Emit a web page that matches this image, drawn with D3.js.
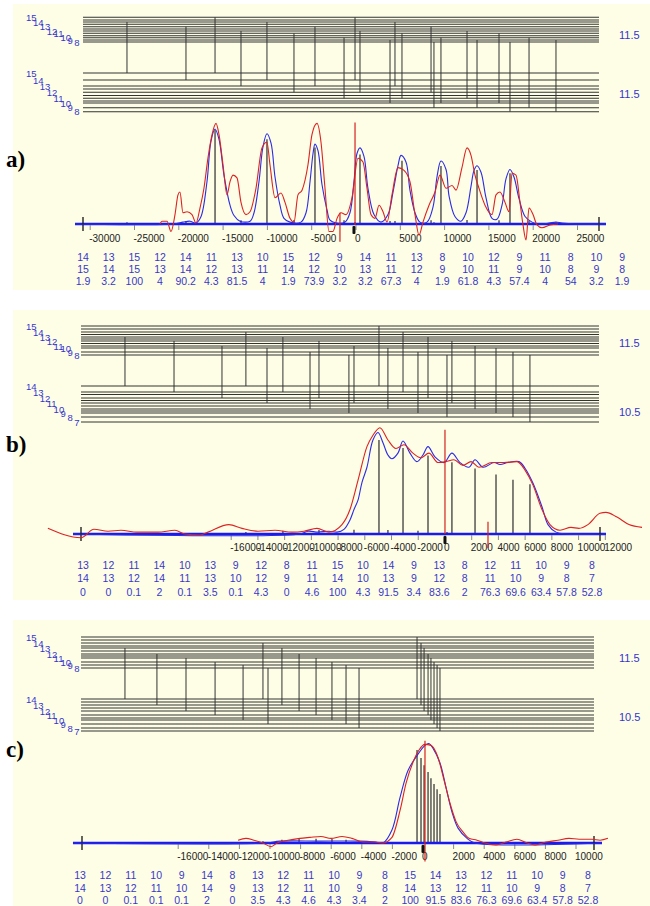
<!DOCTYPE html>
<html>
<head>
<meta charset="utf-8">
<script src="https://cdn.jsdelivr.net/npm/d3@7/dist/d3.min.js"></script>
<style>
  body { margin: 0; background: #fff; }
  svg { display: block; font-family: "Liberation Sans", Arial, sans-serif; }
</style>
</head>
<body>
<div id="chart"></div>
<script>
// ---------- panel a ----------
const aUpN = [15, 14, 13, 12, 11, 10, 9, 8];
const aUpE = [24.7, 20, 15.3, 11, 8.7, 4.3, 2, 0];
const aUpExtra = [22, 17.7, 13, 6.3];
const aLoN = [15, 14, 13, 12, 11, 10, 9, 8];
const aLoE = [38.7, 31.7, 25.7, 19.4, 13.4, 8.7, 4, 0];
const aLoExtra = [22.7, 16.2, 10.7];
const aRight = ["11.5", "11.5"];

const aTUp = [14, 13, 15, 12, 14, 11, 13, 10, 15, 12, 9, 14, 11, 13, 8, 10, 12, 9, 11, 8, 10, 9];
const aTLo = [15, 14, 15, 13, 14, 12, 13, 11, 14, 12, 10, 13, 11, 12, 9, 10, 11, 9, 10, 8, 9, 8];
const aTInt = [1.9, 3.2, 100, 4, 90.2, 4.3, 81.5, 4, 1.9, 73.9, 3.2, 3.2, 67.3, 4, 1.9, 61.8, 4.3, 57.4, 4, 54, 3.2, 1.9];
const aTFreq = [-25850, -19190, -15910, -12980, -10050, -7000, -4630, -1350, -110, 450, 3840, 4400, 5190, 8470, 8800, 9590, 12530, 13660, 16140, 17380, 19530, 22570];
const aTicks = [-30000, -25000, -20000, -15000, -10000, -5000, 0, 5000, 10000, 15000, 20000, 25000];

const aCalc = [[-31720,0],[-20660,0],[-19530,2],[-18740,3],[-18060,1],[-17490,8],[-16820,45],[-16370,88],[-15910,101],[-15460,90],[-14900,52],[-14220,20],[-13770,9],[-13090,3],[-11960,3],[-11510,12],[-10950,45],[-10500,82],[-10050,96],[-9590,86],[-9140,50],[-8580,20],[-8130,6],[-7450,2],[-6210,2],[-5640,12],[-5190,45],[-4850,75],[-4630,85],[-4290,78],[-3840,42],[-3270,15],[-2930,4],[-2140,1],[-1240,2],[-680,12],[-230,45],[110,75],[450,81],[900,72],[1350,38],[2030,10],[2820,2],[3610,10],[4180,34],[4740,62],[5080,73],[5640,66],[6090,36],[6660,12],[7220,2],[8010,2],[8690,18],[9140,50],[9590,67],[10160,58],[10500,30],[11170,8],[11850,3],[12420,12],[12980,40],[13320,57],[13660,62],[14110,55],[14670,28],[15350,6],[15910,5],[16480,20],[16930,48],[17380,58],[17830,50],[18400,27],[19080,8],[19870,2],[20660,0],[21790,1],[22570,2],[23250,1],[24720,0],[28220,0]];
const aObs = [[-22120,0],[-21900,3],[-21330,3],[-20880,-8],[-20430,10],[-20090,31],[-19870,34],[-19530,12],[-19070,13],[-18510,10],[-18060,1],[-17610,17],[-17160,38],[-16710,70],[-16250,95],[-15800,107],[-15460,95],[-15010,63],[-14560,31],[-14220,45],[-13880,52],[-13430,49],[-12980,23],[-12420,10],[-11960,13],[-11290,38],[-10610,81],[-10050,87],[-9710,63],[-9140,28],[-8470,33],[-8010,23],[-7450,6],[-7000,2],[-6550,31],[-6090,36],[-5420,63],[-4970,95],[-4400,107],[-3950,87],[-3500,38],[-3050,-8],[-2600,-8],[-2140,6],[-1690,12],[-1130,10],[-450,28],[230,70],[790,66],[1240,38],[1690,10],[2140,6],[2600,20],[3050,13],[3500,2],[4060,31],[4740,60],[5420,57],[6090,45],[6660,10],[7110,-12],[7560,2],[8240,20],[8920,34],[9480,52],[10160,38],[10840,41],[11290,36],[11960,60],[12530,81],[12980,73],[13430,52],[13880,38],[14560,20],[15350,10],[15800,31],[16250,34],[16820,23],[17270,13],[17610,54],[18060,52],[18510,23],[18850,-1],[19190,-17],[19530,17],[19980,10],[20430,-1],[20990,-4],[21900,-1],[22800,0]];
const aRedF = [-110, -1810];
const aRedTop = [108, 12];
const aRedBot = [-1, -19];

// ---------- panel b ----------
const bUpN = [15, 14, 13, 12, 11, 10, 9, 8];
const bUpE = [29, 23, 18, 14, 9, 7, 3, 0];
const bUpExtra = [26, 20.5, 16, 11.5];
const bLoN = [14, 13, 12, 11, 10, 9, 8, 7];
const bLoE = [36, 30, 24, 19, 13, 9, 5, 0];
const bLoExtra = [27.5, 21.5, 16, 11];
const bRight = ["11.5", "10.5"];

const bTUp = [13, 12, 11, 14, 10, 13, 9, 12, 8, 11, 15, 10, 14, 9, 13, 8, 12, 11, 10, 9, 8];
const bTLo = [14, 13, 12, 14, 11, 13, 10, 12, 9, 11, 14, 10, 13, 9, 12, 8, 11, 10, 9, 8, 7];
const bTInt = [0, 0, 0.1, 2, 0.1, 3.5, 0.1, 4.3, 0, 4.6, 100, 4.3, 91.5, 3.4, 83.6, 2, 76.3, 69.6, 63.4, 57.8, 52.8];
const bTFreq = [-23950, -20280, -16690, -14900, -13320, -12130, -10100, -9430, -7190, -6810, -4940, -4270, -3140, -2020, -1270, 150, 520, 2250, 3820, 5090, 6360];
const bTicks = [-16000, -14000, -12000, -10000, -8000, -6000, -4000, -2000, 0, 2000, 4000, 6000, 8000, 10000, 12000];

const bCalc = [[-27840,0],[-10850,0],[-10250,3],[-9510,2],[-8680,3],[-8080,2],[-7560,5],[-7110,15],[-6810,26],[-6510,36],[-6210,55],[-5840,71],[-5390,100],[-5010,108],[-4640,97],[-4270,84],[-3970,80],[-3520,86],[-3140,99],[-2620,86],[-2100,77],[-1650,84],[-1270,93],[-750,82],[-75,76],[520,86],[1120,76],[1800,71],[2250,79],[2840,71],[3670,76],[4120,74],[4720,76],[5540,77],[5990,70],[6590,54],[7260,29],[7710,10],[8310,2],[9130,0],[12050,0]];
const bObs = [[-29720,6],[-27250,-4],[-26270,5],[-25220,3],[-24250,4],[-23050,2],[-21480,2],[-20210,4],[-19460,0],[-18340,-1],[-17740,2],[-16170,10],[-15190,6],[-14000,3],[-12720,4],[-11450,2],[-10550,3],[-9580,6],[-8680,2],[-7710,10],[-7110,26],[-6510,57],[-5840,93],[-5390,105],[-4870,113],[-4270,100],[-3670,91],[-3070,95],[-2400,86],[-1800,81],[-1200,86],[-520,76],[75,77],[670,79],[1350,73],[1950,77],[2540,71],[3520,76],[4420,76],[5390,77],[5990,68],[6590,52],[7260,26],[7860,10],[8610,4],[9430,7],[10030,6],[10700,10],[11600,22],[12050,23],[12870,18],[13770,10],[14750,7]];
const bRedF = [0, 3220];
const bRedTop = [111, 13];
const bRedBot = [0, -15];

// ---------- panel c ----------
const cUpN = [15, 14, 13, 12, 11, 10, 9, 8];
const cUpE = [31, 25, 20, 14, 10, 6, 3, 0];
const cUpExtra = [28, 22, 17, 12];
const cLoN = [14, 13, 12, 11, 10, 9, 8, 7];
const cLoE = [32, 26, 20, 16, 11, 7, 3, 0];
const cLoExtra = [29, 23, 13];
const cRight = ["11.5", "10.5"];

const cTUp = [13, 12, 11, 10, 9, 14, 8, 13, 12, 11, 10, 9, 8, 15, 14, 13, 12, 11, 10, 9, 8];
const cTLo = [14, 13, 12, 11, 10, 14, 9, 13, 12, 11, 10, 9, 8, 14, 13, 12, 11, 10, 9, 8, 7];
const cTInt = [0, 0, 0.1, 0.1, 0.1, 2, 0, 3.5, 4.3, 4.6, 4.3, 3.4, 2, 100, 91.5, 83.6, 76.3, 69.6, 63.4, 57.8, 52.8];
const cTFreq = [-19480, -17390, -15490, -13590, -11760, -10460, -10130, -9220, -8100, -6990, -5950, -5030, -4180, -390, -130, 70, 330, 520, 720, 920, 1110];
const cTicks = [-16000, -14000, -12000, -10000, -8000, -6000, -4000, -2000, 0, 2000, 4000, 6000, 8000, 10000];

const cCalc = [[-22880,0],[-10330,0],[-9350,2],[-6730,2],[-4120,2],[-3140,1],[-2610,0],[-2030,14],[-1500,49],[-980,78],[-390,94],[130,105],[390,107],[650,102],[1110,86],[1500,60],[1900,33],[2290,16],[2880,5],[3400,0],[11700,0]];
const cObs = [[-12090,3],[-11570,5],[-11050,3],[-10460,0],[-9930,-4],[-9540,0],[-8820,3],[-8040,5],[-7390,6],[-6670,7],[-6010,5],[-5290,7],[-4640,5],[-3920,1],[-3140,1],[-2610,0],[-2030,6],[-1500,35],[-1110,64],[-650,87],[-260,100],[130,106],[520,105],[980,92],[1370,68],[1760,43],[2160,23],[2610,12],[3010,5],[3530,3],[4050,0],[4770,-2],[5420,1],[6140,4],[6800,0],[7320,-2],[8040,1],[8820,3],[9540,5],[10200,4],[11050,4],[11570,3],[12090,5]];
const cRedF = [130];
const cRedTop = [110];
const cRedBot = [-20];

const panels = [
  { letter: "a)", top: 4, bottom: 290, letterY: 167,
    upN: aUpN, upE: aUpE, upExtra: aUpExtra, upY: [42, 17.3],
    loN: aLoN, loE: aLoE, loExtra: aLoExtra, loY: [111.7, 73],
    lineX: [83, 599], right: aRight, rightY: [39, 98],
    tUp: aTUp, tLo: aTLo, tInt: aTInt, tFreq: aTFreq,
    ticks: aTicks, xDomain: [-30000, 25000], xRange: [90.2, 577.5],
    axisY: 224, peakY: 130, axisLine: [75, 606], cross: [83, 599], tickY: 242,
    calc: aCalc, obs: aObs, redF: aRedF, redTop: aRedTop, redBot: aRedBot, zeroF: -230,
    tabX0: 83, tabDx: 25.67, tabY: [261, 273, 285] },
  { letter: "b)", top: 310, bottom: 600, letterY: 452,
    upN: bUpN, upE: bUpE, upExtra: bUpExtra, upY: [355, 326],
    loN: bLoN, loE: bLoE, loExtra: bLoExtra, loY: [422, 386],
    lineX: [81, 599], right: bRight, rightY: [347, 416],
    tUp: bTUp, tLo: bTLo, tInt: bTInt, tFreq: bTFreq,
    ticks: bTicks, xDomain: [-16000, 12000], xRange: [231.2, 605.3],
    axisY: 534, peakY: 440, axisLine: [73, 606], cross: [81, 600], tickY: 551,
    calc: bCalc, obs: bObs, redF: bRedF, redTop: bRedTop, redBot: bRedBot, zeroF: 0,
    tabX0: 83, tabDx: 25.45, tabY: [569, 582, 596] },
  { letter: "c)", top: 620, bottom: 906, letterY: 757,
    upN: cUpN, upE: cUpE, upExtra: cUpExtra, upY: [668, 637],
    loN: cLoN, loE: cLoE, loExtra: cLoExtra, loY: [731, 699],
    lineX: [81, 594], right: cRight, rightY: [662, 721],
    tUp: cTUp, tLo: cTLo, tInt: cTInt, tFreq: cTFreq,
    ticks: cTicks, xDomain: [-16000, 10000], xRange: [178.2, 576],
    axisY: 843, peakY: 750, axisLine: [73, 602], cross: [82, 594], tickY: 860,
    calc: cCalc, obs: cObs, redF: cRedF, redTop: cRedTop, redBot: cRedBot, zeroF: 0,
    tabX0: 80, tabDx: 25.4, tabY: [879, 892, 904] }
];

const svg = d3.select("#chart").append("svg")
  .attr("width", 650).attr("height", 906);

function drawPanel(p) {
  const g = svg.append("g");

  g.append("rect")
    .attr("x", 13).attr("y", p.top)
    .attr("width", 637).attr("height", p.bottom - p.top)
    .attr("fill", "#fefee6");

  const x = d3.scaleLinear().domain(p.xDomain).range(p.xRange);
  const yUp = d3.scaleLinear().domain([0, d3.max(p.upE)]).range(p.upY);
  const yLo = d3.scaleLinear().domain([0, d3.max(p.loE)]).range(p.loY);
  const y = d3.scaleLinear().domain([0, 100]).range([p.axisY, p.peakY]);

  const upMap = new Map(p.upN.map((n, i) => [n, p.upE[i]]));
  const loMap = new Map(p.loN.map((n, i) => [n, p.loE[i]]));

  // energy level lines
  const levelLines = p.upE.concat(p.upExtra).map(e => yUp(e))
    .concat(p.loE.concat(p.loExtra).map(e => yLo(e)));
  g.append("g").selectAll("line").data(levelLines).join("line")
    .attr("x1", p.lineX[0]).attr("x2", p.lineX[1])
    .attr("y1", d => d).attr("y2", d => d)
    .attr("stroke", "#333").attr("stroke-width", 1.1);

  // level labels, staggered like the original
  const labelG = g.append("g")
    .attr("fill", "#3434d0").attr("font-size", 9.5);
  labelG.selectAll(".up").data(p.upN).join("text")
    .attr("x", (d, i) => 26 + i * 6.9)
    .attr("y", (d, i) => yUp(p.upE[i]) + 3.5)
    .text(d => d);
  labelG.selectAll(".lo").data(p.loN).join("text")
    .attr("x", (d, i) => 26 + i * 6.9)
    .attr("y", (d, i) => yLo(p.loE[i]) + 3.5)
    .text(d => d);

  g.append("g").selectAll("text").data(p.right).join("text")
    .attr("x", 619).attr("y", (d, i) => p.rightY[i])
    .attr("fill", "#3434d0").attr("font-size", 11)
    .text(d => d);

  // transitions between levels
  g.append("g").selectAll("line").data(p.tFreq).join("line")
    .attr("x1", d => x(d)).attr("x2", d => x(d))
    .attr("y1", (d, i) => yUp(upMap.get(p.tUp[i])))
    .attr("y2", (d, i) => yLo(loMap.get(p.tLo[i])))
    .attr("stroke", "#333").attr("stroke-width", 1);

  // stick spectrum
  g.append("g").selectAll("line").data(p.tFreq).join("line")
    .attr("x1", d => x(d)).attr("x2", d => x(d))
    .attr("y1", p.axisY)
    .attr("y2", (d, i) => y(p.tInt[i]))
    .attr("stroke", "#4a4a4a").attr("stroke-width", 1.4);

  // axis line and ticks
  g.append("line")
    .attr("x1", p.axisLine[0]).attr("x2", p.axisLine[1])
    .attr("y1", p.axisY).attr("y2", p.axisY)
    .attr("stroke", "#1a1aee").attr("stroke-width", 2.6);

  g.append("g").selectAll("line").data(p.ticks).join("line")
    .attr("x1", d => x(d)).attr("x2", d => x(d))
    .attr("y1", p.axisY + 1).attr("y2", p.axisY + 6)
    .attr("stroke", "#8a8a8a").attr("stroke-width", 1);

  g.append("g").selectAll("line").data(p.cross).join("line")
    .attr("x1", d => d).attr("x2", d => d)
    .attr("y1", p.axisY - 7).attr("y2", p.axisY + 7)
    .attr("stroke", "#111").attr("stroke-width", 1.3);

  g.append("g").selectAll("text").data(p.ticks).join("text")
    .attr("x", d => x(d) - 1).attr("y", p.tickY)
    .attr("font-size", 10).attr("fill", "#222")
    .text(d => d);

  // calculated (blue) and observed (red) contours
  const calcLine = d3.line()
    .x(d => x(d[0])).y(d => y(d[1]))
    .curve(d3.curveCatmullRom.alpha(0.5));
  const obsLine = d3.line()
    .x(d => x(d[0])).y(d => y(d[1]))
    .curve(d3.curveMonotoneX);

  g.append("path").datum(p.calc)
    .attr("d", calcLine).attr("fill", "none")
    .attr("stroke", "#2a2ae6").attr("stroke-width", 1.1);

  g.append("path").datum(p.obs)
    .attr("d", obsLine).attr("fill", "none")
    .attr("stroke", "#dc2222").attr("stroke-width", 1.1);

  // markers
  g.append("g").selectAll("line").data(p.redF).join("line")
    .attr("x1", d => x(d)).attr("x2", d => x(d))
    .attr("y1", (d, i) => y(p.redTop[i]))
    .attr("y2", (d, i) => y(p.redBot[i]))
    .attr("stroke", "#d42020").attr("stroke-width", 1.2);

  g.append("rect")
    .attr("x", x(p.zeroF) - 1.5).attr("y", p.axisY + 2)
    .attr("width", 3).attr("height", 8).attr("rx", 1)
    .attr("fill", "#111");

  // table of N', N'', intensity
  const rows = [p.tUp, p.tLo, p.tInt];
  const tab = g.append("g")
    .attr("fill", "#3838cc").attr("font-size", 10.5)
    .attr("text-anchor", "middle");
  rows.forEach((row, r) => {
    tab.append("g").selectAll("text").data(row).join("text")
      .attr("x", (d, i) => p.tabX0 + i * p.tabDx)
      .attr("y", p.tabY[r])
      .text(d => d);
  });

  g.append("text")
    .attr("x", 6).attr("y", p.letterY)
    .attr("font-family", "'Liberation Serif', 'Times New Roman', serif")
    .attr("font-weight", "bold").attr("font-size", 23)
    .text(p.letter);
}

panels.forEach(drawPanel);
</script>
</body>
</html>
